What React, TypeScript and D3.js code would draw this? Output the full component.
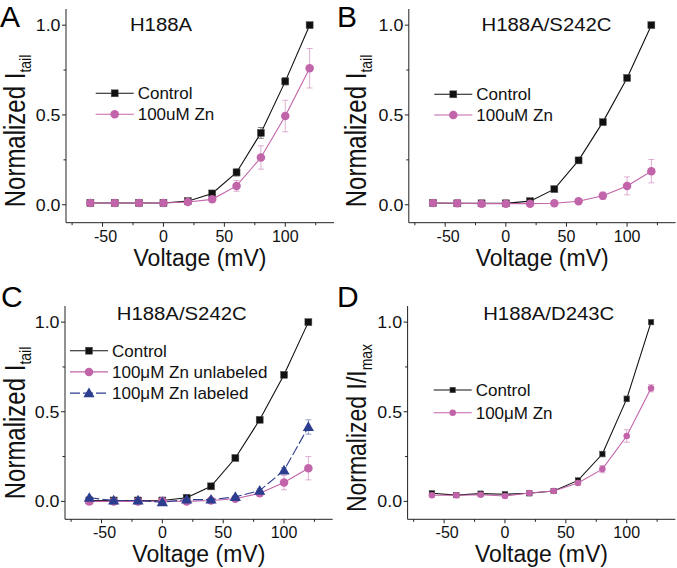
import React from "react";
import * as d3 from "d3";

const voltages = [-60, -40, -20, 0, 20, 40, 60, 80, 100, 120];

const aControl = [0.01, 0.01, 0.01, 0.01, 0.02, 0.063, 0.18, 0.4, 0.687, 1.0];
const aControlErr = [0, 0, 0, 0, 0.01, 0.01, 0.02, 0.03, 0.02, 0];
const aZn = [0.01, 0.01, 0.01, 0.01, 0.015, 0.03, 0.105, 0.263, 0.494, 0.76];
const aZnErr = [0.005, 0.005, 0.005, 0.005, 0.01, 0.015, 0.03, 0.065, 0.088, 0.11];

const bControl = [0.01, 0.008, 0.008, 0.008, 0.02, 0.087, 0.247, 0.46, 0.706, 1.0];
const bControlErr = [0, 0, 0, 0, 0.005, 0.01, 0.01, 0.01, 0.01, 0];
const bZn = [0.01, 0.008, 0.006, 0.006, 0.006, 0.008, 0.019, 0.05, 0.105, 0.187];
const bZnErr = [0.005, 0.005, 0.005, 0.005, 0.005, 0.005, 0.01, 0.02, 0.05, 0.065];

const cControl = [0.005, 0.005, 0.005, 0.005, 0.02, 0.084, 0.242, 0.455, 0.706, 1.0];
const cControlErr = [0, 0, 0, 0, 0.005, 0.01, 0.01, 0.01, 0.01, 0];
const cUnlabeled = [0.0, 0.0, 0.0, 0.002, 0.0, 0.005, 0.015, 0.045, 0.105, 0.185];
const cUnlabeledErr = [0.005, 0.005, 0.005, 0.005, 0.005, 0.005, 0.01, 0.015, 0.04, 0.065];
const cLabeled = [0.02, 0.005, 0.005, -0.005, 0.01, 0.01, 0.025, 0.06, 0.173, 0.415];
const cLabeledErr = [0.005, 0.005, 0.005, 0.005, 0.005, 0.005, 0.005, 0.01, 0.015, 0.04];

const dControl = [0.045, 0.035, 0.043, 0.04, 0.045, 0.058, 0.117, 0.264, 0.572, 1.0];
const dControlErr = [0.01, 0.01, 0.01, 0.01, 0.01, 0.01, 0.01, 0.015, 0.015, 0];
const dZn = [0.034, 0.034, 0.037, 0.03, 0.047, 0.058, 0.102, 0.18, 0.365, 0.631];
const dZnErr = [0.01, 0.01, 0.01, 0.01, 0.01, 0.01, 0.01, 0.02, 0.035, 0.02];

const xMajorTicks = [-50, 0, 50, 100];
const xMinorTicks = [-75, -25, 25, 75, 125];
const yMajorTicks = [0, 0.5, 1.0];
const yMinorTicks = [0.25, 0.75];

const BLACK = "#111111";
const PINK = "#c264a9";
const BLUE = "#2c3c8e";
const FONT = "Liberation Sans, Arial, Helvetica, sans-serif";

type Series = {
  name: string;
  values: number[];
  errors: number[];
  color: string;
  marker: "square" | "circle" | "triangle";
  size: number;
  dash?: string;
};

type PanelProps = {
  letter: string;
  title: string;
  titleX: number;
  left: number;
  right: number;
  top: number;
  bottom: number;
  titleY: number;
  yLabelMain: string;
  yLabelSub: string;
  yLabelSize: number;
  yLabelCenter: number;
  series: Series[];
  legendX: number;
  legendY: number;
  legendGap: number;
  letterX: number;
  letterY: number;
  yLabelX: number;
};

function Marker({ type, x, y, size, color }: { type: string; x: number; y: number; size: number; color: string }) {
  if (type === "square") {
    return <rect x={x - size / 2} y={y - size / 2} width={size} height={size} fill={color} stroke="#555" strokeWidth={0.5} />;
  }
  if (type === "circle") {
    return <circle cx={x} cy={y} r={size / 2} fill={color} />;
  }
  const sym = d3.symbol().type(d3.symbolTriangle).size(size * size * 0.75)();
  return <path d={sym || ""} transform={`translate(${x},${y + 0.8})`} fill={color} />;
}

function Panel(p: PanelProps) {
  const x = d3.scaleLinear().domain([-80, 140]).range([p.left, p.right]);
  const y = d3.scaleLinear().domain([-0.1, 1.09]).range([p.bottom, p.top]);
  const line = d3
    .line<number>()
    .x((_, i) => x(voltages[i]))
    .y((v) => y(v));
  const axisColor = "#222";
  const cx = (p.left + p.right) / 2;
  return (
    <g fontFamily={FONT}>
      <text x={p.letterX} y={p.letterY} fontSize={30} fill="#000">{p.letter}</text>
      <text
        transform={`translate(${p.titleX},${p.titleY}) scale(1.13,1)`}
        fontSize={18}
        textAnchor="middle"
        fill="#111"
      >
        {p.title}
      </text>
      {/* axes */}
      <line x1={p.left} x2={p.right} y1={p.bottom} y2={p.bottom} stroke={axisColor} strokeWidth={1} />
      <line x1={p.left} x2={p.left} y1={p.top} y2={p.bottom} stroke={axisColor} strokeWidth={1} />
      {xMajorTicks.map((t) => (
        <g key={"xM" + t}>
          <line x1={x(t)} x2={x(t)} y1={p.bottom} y2={p.bottom + 4} stroke={axisColor} />
          <text x={x(t) + (t < 0 ? 3 : 0)} y={p.bottom + 19} fontSize={16} textAnchor="middle" fill="#111">
            {t < 0 ? "-" + Math.abs(t) : t}
          </text>
        </g>
      ))}
      {xMinorTicks.map((t) => (
        <line key={"xm" + t} x1={x(t)} x2={x(t)} y1={p.bottom} y2={p.bottom + 2.5} stroke={axisColor} />
      ))}
      {yMajorTicks.map((t) => (
        <g key={"yM" + t}>
          <line x1={p.left - 4} x2={p.left} y1={y(t)} y2={y(t)} stroke={axisColor} />
          <text
            transform={`translate(${p.left - 5.5},${y(t)}) scale(1.08,1)`}
            dy="0.35em"
            fontSize={16.5}
            textAnchor="end"
            fill="#111"
          >
            {t.toFixed(1)}
          </text>
        </g>
      ))}
      {yMinorTicks.map((t) => (
        <line key={"ym" + t} x1={p.left - 2.5} x2={p.left} y1={y(t)} y2={y(t)} stroke={axisColor} />
      ))}
      {/* axis titles */}
      <text x={cx} y={p.bottom + 43} fontSize={23} textAnchor="middle" fill="#111">Voltage (mV)</text>
      <text
        transform={`translate(${p.yLabelX},${p.yLabelCenter}) rotate(-90) scale(1,1.2)`}
        fontSize={p.yLabelSize}
        textAnchor="middle"
        fill="#111"
      >
        {p.yLabelMain}
        <tspan dy={5} fontSize={14}>{p.yLabelSub}</tspan>
      </text>
      {/* series */}
      {p.series.map((s) => (
        <g key={s.name}>
          {s.values.map((v, i) =>
            s.errors[i] > 0 ? (
              <g key={"e" + i} stroke={s.color} strokeOpacity={0.5} strokeWidth={1}>
                <line x1={x(voltages[i])} x2={x(voltages[i])} y1={y(v - s.errors[i])} y2={y(v + s.errors[i])} />
                <line x1={x(voltages[i]) - 3} x2={x(voltages[i]) + 3} y1={y(v - s.errors[i])} y2={y(v - s.errors[i])} />
                <line x1={x(voltages[i]) - 3} x2={x(voltages[i]) + 3} y1={y(v + s.errors[i])} y2={y(v + s.errors[i])} />
              </g>
            ) : null
          )}
          <path d={line(s.values) || ""} fill="none" stroke={s.color} strokeWidth={1.1} strokeDasharray={s.dash} />
          {s.values.map((v, i) => (
            <Marker key={"m" + i} type={s.marker} x={x(voltages[i])} y={y(v)} size={s.size} color={s.color} />
          ))}
        </g>
      ))}
      {/* legend */}
      {p.series.map((s, i) => {
        const ly = p.legendY + i * p.legendGap;
        const lx = p.legendX;
        return (
          <g key={"lg" + s.name}>
            <line x1={lx} x2={lx + 38} y1={ly} y2={ly} stroke={s.color} strokeWidth={1.1} strokeDasharray={s.dash} />
            <Marker type={s.marker} x={lx + 19} y={ly} size={s.size} color={s.color} />
            <text x={lx + 42} y={ly} dy="0.36em" fontSize={17} fill="#111">{s.name}</text>
          </g>
        );
      })}
    </g>
  );
}

export default function App() {
  return (
    <svg width={677} height={568} style={{ position: "absolute", left: 0, top: 0, background: "#fff" }}>
      <rect width={677} height={568} fill="#fff" />
      <Panel
        letter="A" title="H188A" titleX={161} left={66} right={334} top={9} bottom={222.7} titleY={30.5}
        yLabelMain="Normalized I" yLabelSub="tail" yLabelSize={24} yLabelCenter={131}
        letterX={0} letterY={27} yLabelX={25}
        legendX={95.7} legendY={93.3} legendGap={21}
        series={[
          { name: "Control", values: aControl, errors: aControlErr, color: BLACK, marker: "square", size: 7 },
          { name: "100uM Zn", values: aZn, errors: aZnErr, color: PINK, marker: "circle", size: 8.5 },
        ]}
      />
      <Panel
        letter="B" title="H188A/S242C" titleX={546.5} left={408.8} right={675.6} top={9} bottom={222.7} titleY={30.5}
        yLabelMain="Normalized I" yLabelSub="tail" yLabelSize={24} yLabelCenter={131}
        letterX={337} letterY={27} yLabelX={366}
        legendX={434.3} legendY={94.3} legendGap={20.7}
        series={[
          { name: "Control", values: bControl, errors: bControlErr, color: BLACK, marker: "square", size: 7 },
          { name: "100uM Zn", values: bZn, errors: bZnErr, color: PINK, marker: "circle", size: 8.5 },
        ]}
      />
      <Panel
        letter="C" title="H188A/S242C" titleX={181.7} left={65} right={332.7} top={306} bottom={519.3} titleY={320}
        yLabelMain="Normalized I" yLabelSub="tail" yLabelSize={24} yLabelCenter={423}
        letterX={1} letterY={307} yLabelX={25}
        legendX={70} legendY={350.7} legendGap={21.2}
        series={[
          { name: "Control", values: cControl, errors: cControlErr, color: BLACK, marker: "square", size: 7 },
          { name: "100μM Zn unlabeled", values: cUnlabeled, errors: cUnlabeledErr, color: PINK, marker: "circle", size: 8.5 },
          { name: "100μM Zn labeled", values: cLabeled, errors: cLabeledErr, color: BLUE, marker: "triangle", size: 8.5, dash: "10,3" },
        ]}
      />
      <Panel
        letter="D" title="H188A/D243C" titleX={548.7} left={407.6} right={675.4} top={306} bottom={519.3} titleY={320}
        yLabelMain="Normalized I/I" yLabelSub="max" yLabelSize={23} yLabelCenter={428}
        letterX={337} letterY={307} yLabelX={366}
        legendX={433.7} legendY={390} legendGap={22.7}
        series={[
          { name: "Control", values: dControl, errors: dControlErr, color: BLACK, marker: "square", size: 5.5 },
          { name: "100μM Zn", values: dZn, errors: dZnErr, color: PINK, marker: "circle", size: 6.5 },
        ]}
      />
    </svg>
  );
}
